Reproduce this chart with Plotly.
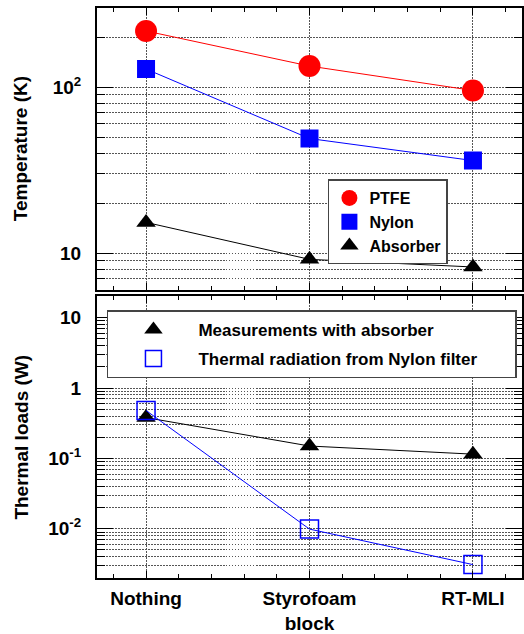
import plotly.graph_objects as go
from plotly.subplots import make_subplots
import math

# ---------------- data ----------------
categories = ["Nothing", "Styrofoam<br>block", "RT-MLI"]
cat_pos = [1, 2, 3]

ptfe_temp = [218, 134, 95.5]
nylon_temp = [128.6, 49, 36.1]
absorber_temp = [15.3, 9.16, 8.24]

absorber_load = [0.38, 0.15, 0.115]
nylon_radiation = [0.48, 0.0099, 0.0031]

top_tickvals = [10, 100]
top_ticktext = ["10", "10<sup>2</sup>"]
top_minor = [7, 8, 9, 20, 30, 40, 50, 60, 70, 80, 90, 200]

bot_tickvals = [0.01, 0.1, 1, 10]
bot_ticktext = ["10<sup>-2</sup>", "10<sup>-1</sup>", "1", "10"]
bot_minor = [0.003, 0.004, 0.005, 0.006, 0.007, 0.008, 0.009,
             0.02, 0.03, 0.04, 0.05, 0.06, 0.07, 0.08, 0.09,
             0.2, 0.3, 0.4, 0.5, 0.6, 0.7, 0.8, 0.9,
             2, 3, 4, 5, 6, 7, 8, 9]

# ---------------- style ----------------
FONT = "Liberation Sans, Arial, Helvetica, sans-serif"
GRIDC = "#555555"
GDASH = "1.5px,1.5px"

fig = make_subplots(rows=2, cols=1, shared_xaxes=True)

def add_series(x, y, color, symbol, size, name, row, legend, open_marker=False, group=None):
    fig.add_trace(go.Scatter(x=x, y=y, mode="lines", line=dict(color=color, width=1),
                             showlegend=False, hoverinfo="skip"), row=row, col=1)
    marker = dict(symbol=symbol, size=size, color=color)
    if open_marker:
        marker["line"] = dict(width=1.5, color=color)
    else:
        marker["line"] = dict(width=0)
    fig.add_trace(go.Scatter(x=x, y=y, mode="markers", marker=marker, name=name,
                             legend=legend, legendgroup=group), row=row, col=1)

add_series(cat_pos, ptfe_temp, "#ff0000", "circle", 22, "PTFE", 1, "legend")
add_series(cat_pos, nylon_temp, "#0000ff", "square", 18, "Nylon", 1, "legend")
add_series(cat_pos, absorber_temp, "#000000", "triangle-up", 17, "Absorber", 1, "legend")

add_series(cat_pos, absorber_load, "#000000", "triangle-up", 17, "Measurements with absorber", 2,
           "legend2", group="g1")
add_series(cat_pos, nylon_radiation, "#0000ff", "square-open", 18,
           "Thermal radiation from Nylon filter" + "\u00a0" * 7, 2,
           "legend2", open_marker=True, group="g2")

W, H = 524, 634
L, R, T, B = 97, 0, 8, 51
ph = H - T - B
pw = W - L - R

top_dom = [(583 - 292.3) / ph, 1.0]
bot_dom = [0.0, (583 - 299) / ph]

xcommon = dict(range=[0.7, 3.3], tickmode="array", tickvals=cat_pos, ticktext=categories,
               ticks="inside", ticklen=7, tickwidth=1, tickcolor="black",
               showline=True, linewidth=2, linecolor="black", mirror="allticks",
               showgrid=True, gridcolor=GRIDC, griddash=GDASH, gridwidth=1,
               zeroline=False,
               minor=dict(tick0=0, dtick=0.2, ticks="inside", ticklen=4, tickcolor="black",
                          showgrid=False),
               tickfont=dict(family=FONT, size=19, color="black", weight="bold"))

fig.update_xaxes(**xcommon)
fig.update_xaxes(showticklabels=False, row=1, col=1)
fig.update_xaxes(ticklabelstandoff=2, row=2, col=1)

ycommon = dict(type="log", ticks="inside", ticklen=16, tickwidth=1.2, tickcolor="black",
               showline=True, linewidth=2, linecolor="black", mirror="allticks",
               showgrid=True, gridcolor=GRIDC, griddash=GDASH, gridwidth=1,
               zeroline=False, ticklabelstandoff=10,
               tickfont=dict(family=FONT, size=19, color="black", weight="bold"))

fig.update_yaxes(**ycommon)
fig.update_yaxes(range=[math.log10(6), math.log10(300)], tickmode="array",
                 tickvals=top_tickvals, ticktext=top_ticktext,
                 minor=dict(tickmode="array", tickvals=top_minor, ticks="inside", ticklen=8,
                            tickcolor="black", showgrid=True, gridcolor=GRIDC, griddash=GDASH),
                 row=1, col=1)
fig.update_yaxes(range=[math.log10(0.002), math.log10(20)], tickmode="array",
                 tickvals=bot_tickvals, ticktext=bot_ticktext,
                 minor=dict(tickmode="array", tickvals=bot_minor, ticks="inside", ticklen=8,
                            tickcolor="black", showgrid=True, gridcolor=GRIDC, griddash=GDASH),
                 row=2, col=1)

fig.update_layout(
    width=W, height=H,
    margin=dict(l=L, r=R, t=T, b=B),
    paper_bgcolor="white", plot_bgcolor="white",
    yaxis=dict(domain=top_dom),
    yaxis2=dict(domain=bot_dom),
    font=dict(family=FONT, color="black"),
    legend=dict(x=(329 - L) / pw, y=(583 - 181) / ph, xanchor="left", yanchor="top",
                bgcolor="white", bordercolor="#444444", borderwidth=1.5,
                font=dict(family=FONT, size=16, color="black", weight="bold"),
                itemwidth=30, tracegroupgap=0),
    legend2=dict(x=(107 - L) / pw, y=(583 - 313) / ph, xanchor="left", yanchor="top",
                 bgcolor="white", bordercolor="#444444", borderwidth=1.5,
                 font=dict(family=FONT, size=17, color="black", weight="bold"),
                 itemwidth=80, tracegroupgap=4),
    showlegend=True,
    annotations=[
        dict(text="Temperature (K)", x=(21 - L) / pw, y=sum(top_dom) / 2, xref="paper", yref="paper",
             textangle=-90, showarrow=False, xanchor="center", yanchor="middle",
             font=dict(family=FONT, size=19, color="black", weight="bold")),
        dict(text="Thermal loads (W)", x=(21 - L) / pw, y=sum(bot_dom) / 2, xref="paper", yref="paper",
             textangle=-90, showarrow=False, xanchor="center", yanchor="middle",
             font=dict(family=FONT, size=19, color="black", weight="bold")),
    ],
)

fig.write_html("out.html", config={"displayModeBar": False},
               post_script="document.body.style.margin='0';document.body.style.overflow='hidden';")
